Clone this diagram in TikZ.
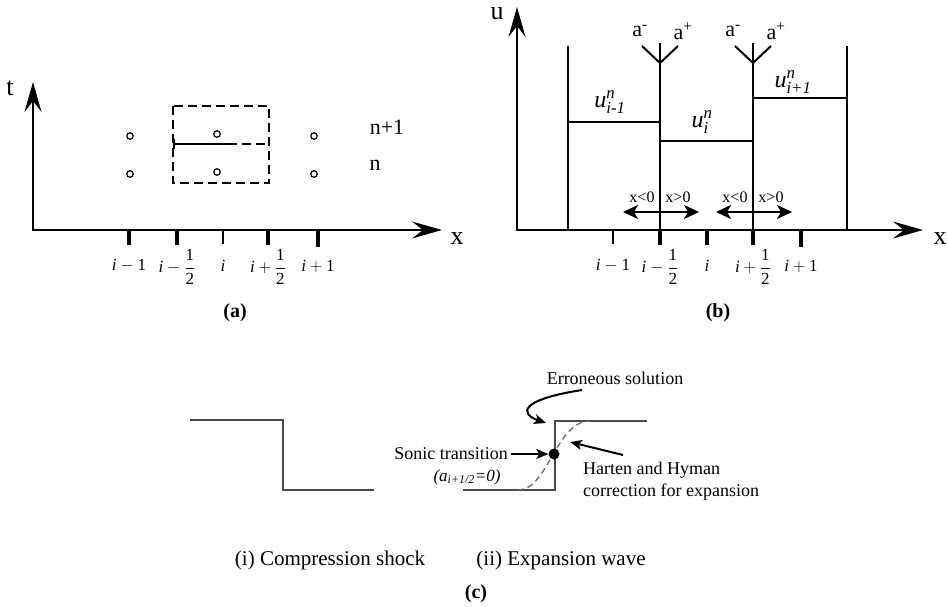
\documentclass[tikz,border=0pt]{standalone}
\usepackage{amsmath}
\usepackage{fontspec}
\setmainfont{Liberation Serif}
\usetikzlibrary{arrows.meta}
\tikzset{
  axes/.style={line width=2pt,{Stealth[length=30pt,width=17pt,inset=11pt]}-{Stealth[length=30pt,width=17pt,inset=11pt]}},
  tkthick/.style={line width=3.6pt},
  tkthin/.style={line width=1.8pt},
  ticklbl/.style={inner sep=0pt,font=\fontsize{17}{20}\selectfont},
  axlbl/.style={inner sep=0pt,font=\fontsize{26}{30}\selectfont},
  lvl/.style={inner sep=0pt,font=\fontsize{22}{26}\selectfont},
  captxt/.style={inner sep=0pt,font=\fontsize{20}{24}\selectfont\bfseries},
  dbox/.style={line width=2pt,dash pattern=on 9pt off 5pt},
  pt/.style={circle,draw,line width=1.2pt,minimum size=6.5pt,inner sep=0pt},
  thinln/.style={line width=1.6pt},
  darr/.style={line width=2pt,{Stealth[length=15pt,width=14pt,inset=4pt]}-{Stealth[length=15pt,width=14pt,inset=4pt]}},
  xs/.style={inner sep=0pt,font=\fontsize{16}{19}\selectfont},
  ulbl/.style={inner sep=0pt,font=\fontsize{24}{28}\selectfont},
  wave/.style={line width=2pt,draw=black!70},
  carr/.style={line width=2pt,-{Stealth[length=12pt,width=10pt,inset=3pt]}},
  ann/.style={inner sep=0pt,font=\fontsize{18}{22}\selectfont},
  subtxt/.style={inner sep=0pt,font=\fontsize{21}{25}\selectfont},
}
\begin{document}
\begin{tikzpicture}[x=1pt,y=-1pt]
\useasboundingbox (0,0) rectangle (948,606);
% ---------------- panel (a)
\coordinate (aT) at (33,82);
\coordinate (aO) at (33,230);
\coordinate (aX) at (442,230);
\draw[axes] (aT) -- (aO) -- (aX);
\node[axlbl] (lt) at (10,88) {t};
\node[axlbl] (lxa) at (457,239) {x};
\draw[tkthick] (129,230) -- (129,245);
\draw[tkthick] (177,230) -- (177,245);
\draw[tkthin] (223,230) -- (223,244);
\draw[tkthick] (268,230) -- (268,245);
\draw[tkthick] (318,230) -- (318,247);
\node[ticklbl] (a1) at (129,266) {$\textit{i}-\textrm{1}$};
\node[ticklbl] (a2) at (177,267) {$\textit{i}-\dfrac{\textrm{1}}{\textrm{2}}$};
\node[ticklbl] (a3) at (223,266) {\textit{i}};
\node[ticklbl] (a4) at (268,267) {$\textit{i}+\dfrac{\textrm{1}}{\textrm{2}}$};
\node[ticklbl] (a5) at (318,266) {$\textit{i}+\textrm{1}$};
\draw[dbox] (173,106) rectangle (269,183);
\draw[line width=2pt] (173,144) -- (228,144);
\draw[dbox] (228,144) -- (269,144);
\draw[line width=2pt] (174,139) -- (174,149);
\node[pt] (c1) at (130,136) {};
\node[pt] (c2) at (130,174) {};
\node[pt] (c3) at (217,134) {};
\node[pt] (c4) at (217,172) {};
\node[pt] (c5) at (314,136) {};
\node[pt] (c6) at (314,174) {};
\node[lvl] (n1) at (387,127) {n+1};
\node[lvl] (n0) at (375,165) {n};
\node[captxt] (capa) at (235,313) {(a)};
% ---------------- panel (b)
\coordinate (bT) at (517,7);
\coordinate (bO) at (517,230);
\coordinate (bX) at (923,230);
\draw[axes] (bT) -- (bO) -- (bX);
\node[axlbl] (lu) at (497,14) {u};
\node[axlbl] (lxb) at (940,239) {x};
\draw[tkthin] (613,230) -- (613,244);
\draw[tkthick] (660,230) -- (660,245);
\draw[tkthick] (707,230) -- (707,245);
\draw[tkthick] (753,230) -- (753,245);
\draw[tkthick] (801,230) -- (801,247);
\node[ticklbl] (b1) at (613,266) {$\textit{i}-\textrm{1}$};
\node[ticklbl] (b2) at (660,267) {$\textit{i}-\dfrac{\textrm{1}}{\textrm{2}}$};
\node[ticklbl] (b3) at (707,266) {\textit{i}};
\node[ticklbl] (b4) at (753,267) {$\textit{i}+\dfrac{\textrm{1}}{\textrm{2}}$};
\node[ticklbl] (b5) at (801,266) {$\textit{i}+\textrm{1}$};
\draw[thinln] (568,230) -- (568,46);
\draw[thinln] (660,230) -- (660,43);
\draw[thinln] (753,230) -- (753,43);
\draw[thinln] (847,230) -- (847,46);
\draw[thinln] (568,122) -- (660,122);
\draw[thinln] (660,141) -- (753,141);
\draw[thinln] (753,98) -- (847,98);
\draw[line width=2pt] (642,46) -- (660,63) -- (678,46);
\draw[line width=2pt] (735,46) -- (753,63) -- (771,46);
\node[lvl] (am1) at (640,31) {a\textsuperscript{-}};
\node[lvl] (ap1) at (683,31) {a\textsuperscript{+}};
\node[lvl] (am2) at (733,31) {a\textsuperscript{-}};
\node[lvl] (ap2) at (776,31) {a\textsuperscript{+}};
\node[ulbl] (u1) at (610,102) {$\textit{u}^{\textit{n}}_{\textit{i-1}}$};
\node[ulbl] (u2) at (702,122) {$\textit{u}^{\textit{n}}_{\textit{i}}$};
\node[ulbl] (u3) at (793,82) {$\textit{u}^{\textit{n}}_{\textit{i+1}}$};
\coordinate (d1l) at (623,212);
\coordinate (d1r) at (699,212);
\coordinate (d2l) at (716,212);
\coordinate (d2r) at (792,212);
\draw[darr] (d1l) -- (d1r);
\draw[darr] (d2l) -- (d2r);
\node[xs] (x1) at (642,197) {x<0};
\node[xs] (x2) at (678,197) {x>0};
\node[xs] (x3) at (735,197) {x<0};
\node[xs] (x4) at (771,197) {x>0};
\node[captxt] (capb) at (718,313) {(b)};
% ---------------- panel (c)
\draw[wave] (190,420) -- (283,420) -- (283,490) -- (374,490);
\draw[wave] (463,490) -- (555,490) -- (555,421) -- (647,421);
\draw[line width=1.3pt,draw=black!60,dash pattern=on 6pt off 4pt] (518,490) .. controls (548,490) and (556,421) .. (590,421);
\node[circle,fill=black,minimum size=11pt,inner sep=0pt] (dot) at (554,454) {};
\node[ann] (err) at (615,378) {Erroneous solution};
\coordinate (errs) at (582,390);
\coordinate (corner) at (546,423);
\draw[carr] (errs) .. controls (518,400) and (520,414) .. (corner);
\node[ann] (sonic) at (451,454) {Sonic transition};
\draw[carr,shorten <=3pt] (sonic.east) -- (dot.west);
\node[ann,font=\fontsize{17}{20}\selectfont\itshape] (acond) at (467,477) {(a\textsubscript{i+1/2}=0)};
\node[ann,anchor=west,align=left] (hh) at (583,481) {Harten and Hyman\\correction for expansion};
\coordinate (hs) at (623,455);
\coordinate (he) at (570,442);
\draw[carr] (hs) -- (he);
\node[subtxt] (s1) at (330,560) {(i) Compression shock};
\node[subtxt] (s2) at (561,560) {(ii) Expansion wave};
\node[captxt] (capc) at (476,594) {(c)};
\end{tikzpicture}
\end{document}
